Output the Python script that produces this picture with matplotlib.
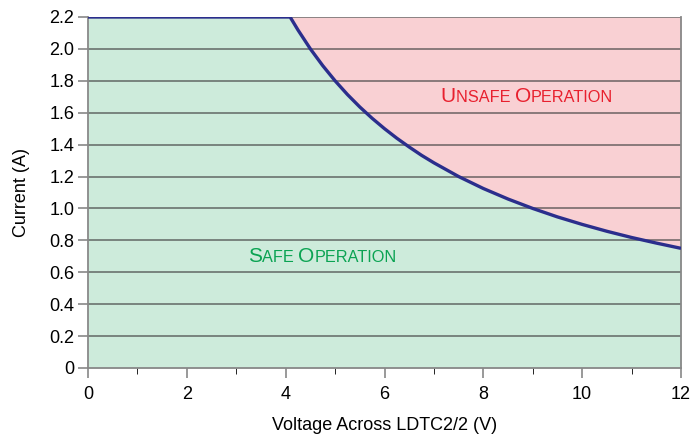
import numpy as np
import matplotlib.pyplot as plt
from matplotlib.offsetbox import TextArea, HPacker, AnnotationBbox

plt.rcParams['font.family'] = ['Liberation Sans', 'DejaVu Sans']

# safe operating limit
voltage = [0, 4.09, 4.25, 4.5, 4.75, 5.0, 5.25, 5.5, 5.75, 6.0, 6.25, 6.5, 6.75,
           7.0, 7.5, 8.0, 8.5, 9.0, 9.5, 10.0, 10.5, 11.0, 11.5, 12.0]
current = [2.2, 2.2, 2.118, 2.0, 1.895, 1.8, 1.714, 1.636, 1.565, 1.5, 1.44, 1.385, 1.333,
           1.286, 1.2, 1.125, 1.059, 1.0, 0.947, 0.9, 0.857, 0.818, 0.783, 0.75]

yticks = [0, 0.2, 0.4, 0.6, 0.8, 1.0, 1.2, 1.4, 1.6, 1.8, 2.0, 2.2]
ylabels = ['0', '0.2', '0.4', '0.6', '0.8', '1.0', '1.2', '1.4', '1.6', '1.8', '2.0', '2.2']
xticks = [0, 2, 4, 6, 8, 10, 12]

fig = plt.figure(figsize=(6.92, 4.37), dpi=100)
ax = fig.add_axes([0.1272, 0.1579, 0.8569, 0.8032])

ax.fill_between(voltage, current, 2.2, color='#f9d0d3', lw=0, zorder=0)
ax.fill_between(voltage, 0, current, color='#cdebdb', lw=0, zorder=0)
for y in yticks[1:]:
    ax.axhline(y, color='#404040', alpha=0.65, lw=1.3, zorder=1)
ax.plot(voltage, current, color='#2b2e8c', lw=2.4, zorder=3,
        solid_capstyle='butt', solid_joinstyle='round')

ax.set_xlim(0, 12)
ax.set_ylim(0, 2.2)
ax.set_xticks(xticks)
ax.set_xticks([1, 3, 5, 7, 9, 11], minor=True)
ax.set_yticks(yticks)
ax.set_yticklabels(ylabels)
ax.tick_params(axis='both', labelsize=13, color='#888888', width=1.2)
ax.tick_params(axis='x', which='major', length=7, pad=6)
ax.tick_params(axis='x', which='minor', length=4)
ax.tick_params(axis='y', length=7, pad=3)
for s in ['left', 'bottom', 'right']:
    ax.spines[s].set_color('#888888')
    ax.spines[s].set_linewidth(1.3)
ax.spines['top'].set_visible(False)

ax.set_xlabel('Voltage Across LDTC2/2 (V)', fontsize=13, labelpad=10)
ax.set_ylabel('Current (A)', fontsize=13, labelpad=14)


def small_caps(words, x, y, color):
    parts = []
    for i, w in enumerate(words):
        rest = w[1:].upper() + (' ' if i < len(words) - 1 else '')
        parts.append(TextArea(w[0], textprops=dict(size=15, color=color)))
        parts.append(TextArea(rest, textprops=dict(size=11.7, color=color)))
    box = HPacker(children=parts, align='baseline', pad=0, sep=0)
    ab = AnnotationBbox(box, (x, y), xycoords='data', frameon=False, zorder=4)
    ax.add_artist(ab)


small_caps(['Unsafe', 'Operation'], 8.88, 1.70, '#e8202e')
small_caps(['Safe', 'Operation'], 4.74, 0.70, '#0aa352')

fig.savefig('out.png', dpi=100)
